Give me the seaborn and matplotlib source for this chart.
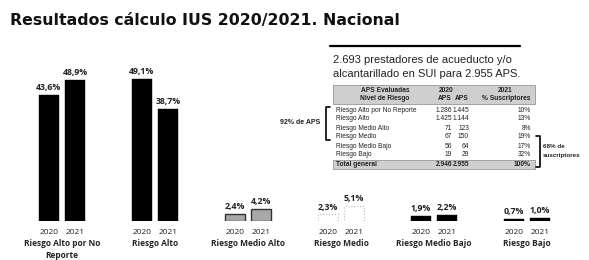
import pandas as pd
import matplotlib.pyplot as plt
import seaborn as sns
from matplotlib.patches import Rectangle

# bar chart data (% of APS per risk level)
groups = ['Riesgo Alto por No\nReporte', 'Riesgo Alto', 'Riesgo Medio Alto',
          'Riesgo Medio', 'Riesgo Medio Bajo', 'Riesgo Bajo']
years = ['2020', '2021']
pct_2020 = [43.6, 49.1, 2.4, 2.3, 1.9, 0.7]
pct_2021 = [48.9, 38.7, 4.2, 5.1, 2.2, 1.0]

# summary table
table_levels = ['Riesgo Alto por No Reporte', 'Riesgo Alto', 'Riesgo Medio Alto',
                'Riesgo Medio', 'Riesgo Medio Bajo', 'Riesgo Bajo']
aps_2020 = ['1.286', '1.425', '71', '67', '56', '19']
aps_2021 = ['1.445', '1.144', '123', '150', '64', '29']
pct_susc = ['10%', '13%', '8%', '19%', '17%', '32%']
total_row = ['Total general', '2.946', '2.955', '100%']

W, H = 589, 260


def px(x, y):
    # pixel position (from top-left) -> figure fraction
    return x / W, 1 - y / H


sns.set_theme(style='white')
plt.rcParams['font.family'] = ['Open Sans', 'DejaVu Sans']

fig = plt.figure(figsize=(W / 100, H / 100), dpi=100)
ax = fig.add_axes([15.5 / W, 39 / H, 558 / W, 159 / H])

df = pd.DataFrame({
    'nivel': groups * 2,
    'year': [years[0]] * len(groups) + [years[1]] * len(groups),
    'pct': pct_2020 + pct_2021,
})
sns.barplot(data=df, x='nivel', y='pct', hue='year', order=groups, hue_order=years,
            palette=['black', 'black'], width=0.56, gap=0.2, legend=False, ax=ax)

# per-group styling
for cont in ax.containers:
    for i, bar in enumerate(cont):
        if i == 2:
            bar.set_facecolor('#a8a8a8')
            bar.set_edgecolor('#333333')
            bar.set_linewidth(1.0)
        elif i == 3:
            bar.set_facecolor('white')
            bar.set_edgecolor('#bbbbbb')
            bar.set_linestyle(':')
            bar.set_linewidth(0.8)
        else:
            bar.set_facecolor('black')
            bar.set_edgecolor('black')
            bar.set_linewidth(0.3)

for cont, vals in zip(ax.containers, [pct_2020, pct_2021]):
    ax.bar_label(cont, labels=[f'{v:.1f}%'.replace('.', ',') for v in vals],
                 padding=2, fontsize=6.3, fontweight='bold', color='#222222')

# year labels under each bar
for cont, yr in zip(ax.containers, years):
    for bar in cont:
        cx = bar.get_x() + bar.get_width() / 2
        ax.annotate(yr, xy=(cx, 0), xytext=(0, -8), textcoords='offset points',
                    ha='center', va='center', fontsize=6, color='#222222',
                    annotation_clip=False)

ax.set_xlim(-0.5, len(groups) - 0.5)
ax.set_ylim(0, 55)
ax.set_xticks(range(len(groups)))
ax.set_xticklabels(groups, fontsize=6, fontweight='bold', linespacing=1.4)
ax.tick_params(axis='x', length=0, pad=13)
ax.set_yticks([])
ax.set_xlabel('')
ax.set_ylabel('')
sns.despine(ax=ax, left=True, bottom=True)

# title
fig.text(*px(10, 20), 'Resultados cálculo IUS 2020/2021. Nacional', family='DejaVu Sans',
         fontsize=11.3, fontweight='bold', va='center', ha='left', color='#111111')

# note above table
fig.add_artist(plt.Line2D([330 / W, 520 / W], [1 - 46 / H, 1 - 46 / H], color='black', lw=1.6))
fig.text(*px(333, 60), '2.693 prestadores de acueducto y/o', family='Liberation Sans',
         fontsize=8, va='center', ha='left', color='#222222')
fig.text(*px(333, 74), 'alcantarillado en SUI para 2.955 APS.', family='Liberation Sans',
         fontsize=8, va='center', ha='left', color='#222222')

# table backgrounds
for (x0, y0, x1, y1) in [(333, 85, 535, 104), (333, 160, 535, 169)]:
    fig.add_artist(Rectangle(px(x0, y1), (x1 - x0) / W, (y1 - y0) / H,
                             facecolor='#cfcfcf', edgecolor='#888888', lw=0.5))

tkw = dict(family='Liberation Sans', fontsize=4.8, va='center', color='#222222')
fig.text(*px(385, 90), 'APS Evaluadas', ha='center', fontweight='bold', **tkw)
fig.text(*px(446, 90), '2020', ha='center', fontweight='bold', **tkw)
fig.text(*px(505, 90), '2021', ha='center', fontweight='bold', **tkw)
fig.text(*px(385, 99), 'Nivel de Riesgo', ha='center', fontweight='bold', **tkw)
fig.text(*px(452, 99), 'APS', ha='right', fontweight='bold', **tkw)
fig.text(*px(469, 99), 'APS', ha='right', fontweight='bold', **tkw)
fig.text(*px(531, 99), '% Suscriptores', ha='right', fontweight='bold', **tkw)

for k, (lvl, a0, a1, p) in enumerate(zip(table_levels, aps_2020, aps_2021, pct_susc)):
    y = 110 + 9 * k
    fig.text(*px(336, y), lvl, ha='left', **tkw)
    fig.text(*px(452, y), a0, ha='right', **tkw)
    fig.text(*px(469, y), a1, ha='right', **tkw)
    fig.text(*px(531, y), p, ha='right', **tkw)
fig.text(*px(336, 164.5), total_row[0], ha='left', fontweight='bold', **tkw)
fig.text(*px(452, 164.5), total_row[1], ha='right', fontweight='bold', **tkw)
fig.text(*px(469, 164.5), total_row[2], ha='right', fontweight='bold', **tkw)
fig.text(*px(531, 164.5), total_row[3], ha='right', fontweight='bold', **tkw)


# brackets
def bracket(x, y0, y1, side):
    d = 4 if side == 'left' else -4
    xs = [(x + d) / W, x / W, x / W, (x + d) / W]
    ys = [1 - y0 / H, 1 - y0 / H, 1 - y1 / H, 1 - y1 / H]
    fig.add_artist(plt.Line2D(xs, ys, color='black', lw=1.2))


bracket(326, 107, 140, 'left')
bracket(540, 136, 167, 'right')
fig.text(*px(320, 122), '92% de APS', family='Liberation Sans', fontsize=5,
         fontweight='bold', ha='right', va='center', color='#222222')
fig.text(*px(543, 146), '68% de', family='Liberation Sans', fontsize=4.5,
         fontweight='bold', ha='left', va='center', color='#222222')
fig.text(*px(543, 155), 'suscriptores', family='Liberation Sans', fontsize=4.5,
         fontweight='bold', ha='left', va='center', color='#222222')

fig.savefig('out.png', dpi=100, facecolor='white')
